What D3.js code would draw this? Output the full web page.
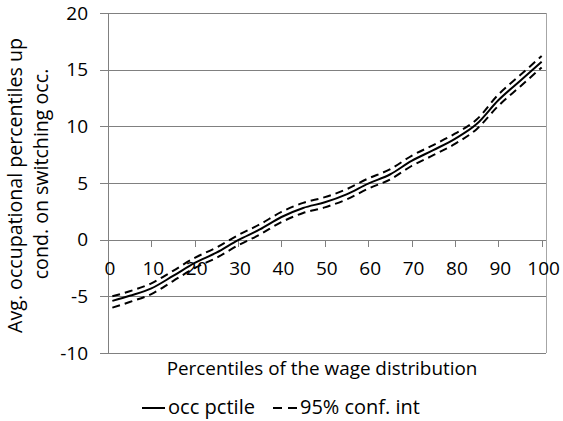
<!DOCTYPE html>
<html><head><meta charset="utf-8">
<script src="https://cdn.jsdelivr.net/npm/d3@7"></script>
<style>body{margin:0;background:#fff}svg{display:block}text{font-family:"Open Sans",sans-serif;fill:#000}</style>
</head><body><svg id="c" width="563" height="421"></svg>
<script>
const percentiles = [1,5,10,15,20,25,30,35,40,45,50,55,60,65,70,75,80,85,90,95,100];
const occPctile   = [-5.4,-4.95,-4.3,-3.2,-2.05,-1.15,-0.05,0.9,2.0,2.8,3.3,4.0,4.95,5.75,6.95,7.9,8.9,10.2,12.3,14.0,15.7];
const ciUpper     = [-5.0,-4.55,-3.85,-2.75,-1.6,-0.7,0.4,1.35,2.45,3.25,3.75,4.45,5.4,6.2,7.4,8.35,9.35,10.6,12.8,14.5,16.2];
const ciLower     = [-6.0,-5.5,-4.8,-3.65,-2.5,-1.6,-0.5,0.45,1.55,2.35,2.85,3.55,4.5,5.3,6.5,7.45,8.45,9.75,11.8,13.5,15.2];
const xTicks = [0,10,20,30,40,50,60,70,80,90,100];
const yTicks = [-10,-5,0,5,10,15,20];
const yTitle = ["Avg. occupational percentiles up","cond. on switching occ."];
const xTitle = "Percentiles of the wage distribution";
const legendLabels = ["occ pctile","95% conf. int"];

const svg = d3.select("#c");
const L=108, R=546, T=13, B=353;
const x = d3.scaleLinear().domain([0,101]).range([L,R]);
const y = d3.scaleLinear().domain([-10,20]).range([B,T]);
const grid="#808080";

// scale a text element's font size so that it spans a target width
function fit(sel, target){
  const fs = +sel.attr("font-size");
  const w = sel.node().getComputedTextLength();
  sel.attr("font-size", (fs*target/w).toFixed(2));
  return sel;
}

svg.append("g").selectAll("line").data(yTicks).join("line")
  .attr("x1",L-8).attr("x2",R).attr("y1",d=>Math.round(y(d))+0.5).attr("y2",d=>Math.round(y(d))+0.5)
  .attr("stroke",grid).attr("stroke-width",1);
svg.append("line").attr("x1",R+0.5).attr("x2",R+0.5).attr("y1",T).attr("y2",B)
  .attr("stroke","#a6a6a6");
svg.append("line").attr("x1",L+0.5).attr("x2",L+0.5).attr("y1",T).attr("y2",B)
  .attr("stroke",grid);
svg.append("g").selectAll("line").data(xTicks).join("line")
  .attr("x1",d=>Math.round(x(d))+0.5).attr("x2",d=>Math.round(x(d))+0.5)
  .attr("y1",Math.round(y(0))).attr("y2",Math.round(y(0))+7)
  .attr("stroke",grid);
svg.append("g").selectAll("text").data(yTicks).join("text")
  .attr("x",88).attr("y",d=>y(d)+6.5).attr("text-anchor","end")
  .attr("font-size",19).text(d=>d);
svg.append("g").selectAll("text").data(xTicks).join("text")
  .attr("x",d=>x(d)+2).attr("y",275).attr("text-anchor","middle")
  .attr("font-size",19).text(d=>d);

const line = d3.line().x(d=>x(d[0])).y(d=>y(d[1])).curve(d3.curveMonotoneX);
const mk = arr => percentiles.map((p,i)=>[p,arr[i]]);
svg.append("path").attr("d",line(mk(ciUpper))).attr("fill","none").attr("stroke","#000")
  .attr("stroke-width",2).attr("stroke-dasharray","8,5");
svg.append("path").attr("d",line(mk(ciLower))).attr("fill","none").attr("stroke","#000")
  .attr("stroke-width",2).attr("stroke-dasharray","8,5");
svg.append("path").attr("d",line(mk(occPctile))).attr("fill","none").attr("stroke","#000")
  .attr("stroke-width",2);

const yt1 = svg.append("text").attr("transform","translate(22,185.5) rotate(-90)")
  .attr("text-anchor","middle").attr("font-size",18).text(yTitle[0]);
fit(yt1,295);
const yt2 = svg.append("text").attr("transform","translate(48,174) rotate(-90)")
  .attr("text-anchor","middle").attr("font-size",yt1.attr("font-size")).text(yTitle[1]);
fit(svg.append("text").attr("x",322).attr("y",375).attr("text-anchor","middle")
  .attr("font-size",18).text(xTitle),311);
svg.append("line").attr("x1",142).attr("x2",165).attr("y1",408).attr("y2",408)
  .attr("stroke","#000").attr("stroke-width",2);
fit(svg.append("text").attr("x",168).attr("y",414).attr("font-size",18).text(legendLabels[0]),87);
svg.append("line").attr("x1",273).attr("x2",297).attr("y1",408).attr("y2",408)
  .attr("stroke","#000").attr("stroke-width",2).attr("stroke-dasharray","9,6");
fit(svg.append("text").attr("x",300).attr("y",414).attr("font-size",18).text(legendLabels[1]),120);
</script></body></html>
